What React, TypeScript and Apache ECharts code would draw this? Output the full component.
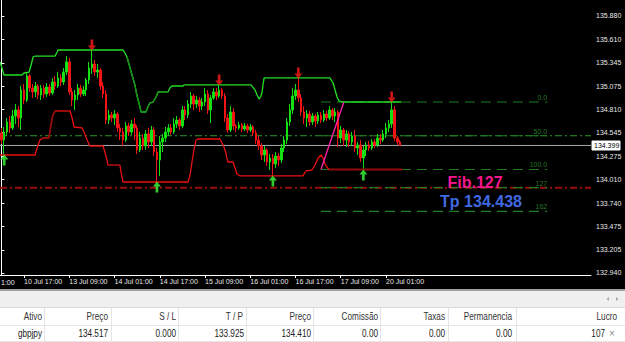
import React, { useEffect, useRef } from "react";
import * as echarts from "echarts";

// ---------- data (H1 GBPJPY) ----------
const opens = [134.542,134.461,134.553,134.667,134.599,134.736,134.805,134.713,135.033,134.919,135.194,135.056,135.011,135.079,134.976,135.056,134.988,135.068,134.999,135.125,135.079,135.171,135.125,135.239,135.354,135.011,134.919,134.976,135.056,134.988,135.033,135.148,135.285,135.331,135.239,135.262,135.079,134.988,134.690,134.747,134.713,134.759,134.599,134.553,134.461,134.622,134.553,134.644,134.599,134.347,134.484,134.393,134.530,134.439,134.576,134.324,134.233,134.439,134.484,134.553,134.599,134.553,134.644,134.690,134.622,134.805,134.747,134.873,134.965,134.873,134.919,134.850,134.896,134.988,134.805,134.942,135.011,134.965,135.033,134.965,134.713,134.576,134.782,134.622,134.599,134.633,134.587,134.622,134.576,134.610,134.542,134.461,134.393,134.290,134.347,134.210,134.256,134.187,134.278,134.233,134.370,134.461,134.667,134.805,134.965,135.033,134.942,134.782,134.713,134.759,134.667,134.736,134.679,134.747,134.690,134.759,134.713,134.805,134.736,134.782,134.484,134.576,134.461,134.530,134.439,134.507,134.370,134.404,134.256,134.347,134.404,134.370,134.439,134.404,134.484,134.461,134.530,134.599,134.644,134.805,134.484,134.439];
const closes = [134.461,134.553,134.667,134.599,134.736,134.805,134.713,135.033,134.919,135.194,135.056,135.011,135.079,134.976,135.056,134.988,135.068,134.999,135.125,135.079,135.171,135.125,135.239,135.354,135.011,134.919,134.976,135.056,134.988,135.033,135.148,135.285,135.331,135.239,135.262,135.079,134.988,134.690,134.747,134.713,134.759,134.599,134.553,134.461,134.622,134.553,134.644,134.599,134.347,134.484,134.393,134.530,134.439,134.576,134.324,134.233,134.439,134.484,134.553,134.599,134.553,134.644,134.690,134.622,134.805,134.747,134.873,134.965,134.873,134.919,134.850,134.896,134.988,134.805,134.942,135.011,134.965,135.033,134.965,134.713,134.576,134.782,134.622,134.599,134.633,134.587,134.622,134.576,134.610,134.542,134.461,134.393,134.290,134.347,134.210,134.256,134.187,134.278,134.233,134.370,134.461,134.667,134.805,134.965,135.033,134.942,134.782,134.713,134.759,134.667,134.736,134.679,134.747,134.690,134.759,134.713,134.805,134.736,134.782,134.484,134.576,134.461,134.530,134.439,134.507,134.370,134.404,134.256,134.347,134.404,134.370,134.439,134.404,134.484,134.461,134.530,134.599,134.644,134.805,134.484,134.439,134.399];
const lows = [134.416,134.290,134.507,134.542,134.576,134.644,134.610,134.576,134.873,134.896,135.011,134.942,134.953,134.930,134.919,134.942,134.953,134.965,134.976,135.033,135.056,135.079,135.091,135.205,134.976,134.850,134.805,134.919,134.953,134.965,134.965,135.102,135.216,135.194,135.171,135.033,134.942,134.644,134.644,134.667,134.633,134.553,134.461,134.393,134.439,134.507,134.519,134.461,134.301,134.324,134.347,134.347,134.370,134.393,134.278,133.981,134.050,134.324,134.439,134.507,134.519,134.530,134.599,134.576,134.599,134.690,134.713,134.828,134.805,134.828,134.782,134.805,134.850,134.759,134.656,134.919,134.919,134.942,134.930,134.667,134.542,134.553,134.576,134.553,134.576,134.553,134.564,134.542,134.553,134.507,134.416,134.347,134.233,134.210,134.164,134.118,134.050,134.141,134.164,134.198,134.324,134.416,134.622,134.759,134.919,134.896,134.736,134.644,134.610,134.622,134.633,134.610,134.644,134.656,134.667,134.679,134.690,134.690,134.667,134.381,134.427,134.393,134.381,134.381,134.393,134.324,134.290,134.210,134.130,134.278,134.336,134.347,134.370,134.381,134.416,134.439,134.484,134.553,134.599,134.450,134.404,134.393];
const highs = [134.599,134.610,134.713,134.736,134.805,134.873,134.850,135.079,135.102,135.239,135.216,135.102,135.125,135.102,135.091,135.091,135.113,135.102,135.171,135.194,135.239,135.216,135.285,135.422,135.400,135.056,135.033,135.102,135.091,135.079,135.171,135.354,135.491,135.377,135.331,135.285,135.125,135.033,134.805,134.782,134.805,134.782,134.644,134.599,134.667,134.656,134.690,134.713,134.633,134.553,134.530,134.576,134.599,134.622,134.610,134.370,134.507,134.530,134.610,134.644,134.644,134.713,134.736,134.713,134.850,134.850,134.919,135.011,134.988,134.965,134.953,134.942,135.056,135.033,134.976,135.056,135.056,135.091,135.056,134.999,134.759,134.850,134.828,134.644,134.667,134.656,134.656,134.644,134.644,134.633,134.576,134.507,134.427,134.393,134.370,134.301,134.301,134.324,134.313,134.416,134.507,134.713,134.873,135.056,135.102,135.171,134.988,134.850,134.805,134.793,134.770,134.759,134.782,134.782,134.805,134.793,134.850,134.828,134.828,134.805,134.622,134.599,134.576,134.564,134.553,134.576,134.439,134.461,134.393,134.439,134.450,134.473,134.473,134.530,134.530,134.576,134.656,134.690,134.896,134.850,134.507,134.461];

// channel bands: [bar index, price]
const upperBand = [[-0.5,135.354],[0.2,135.285],[0.9,135.205],[7.3,135.205],[8.0,135.228],[9.8,135.239],[10.5,135.319],[11.2,135.411],[11.9,135.422],[19.0,135.422],[19.7,135.468],[20.0,135.491],[43.0,135.491],[43.7,135.457],[44.4,135.411],[45.5,135.285],[46.5,135.171],[47.2,135.091],[47.9,134.976],[49.0,134.839],[49.4,134.782],[51.1,134.782],[51.8,134.839],[52.5,134.885],[53.6,134.896],[54.7,134.953],[55.4,135.011],[58.9,135.011],[59.6,135.056],[60.3,135.079],[64.2,135.079],[64.6,135.091],[88.3,135.091],[89.7,135.033],[90.4,134.976],[91.1,134.930],[91.8,134.965],[92.2,135.011],[92.5,135.091],[92.9,135.171],[116.2,135.171],[117.3,135.113],[118.0,135.033],[118.7,134.953],[119.4,134.908],[120.4,134.896],[141.3,134.896]];
const lowerBand = [[-0.5,134.290],[11.9,134.290],[12.6,134.370],[13.6,134.461],[14.7,134.484],[16.8,134.484],[17.5,134.633],[18.2,134.747],[19.0,134.793],[24.3,134.793],[25.0,134.713],[25.7,134.610],[28.5,134.599],[29.2,134.553],[30.3,134.461],[31.3,134.393],[35.9,134.393],[36.6,134.324],[37.3,134.233],[37.7,134.175],[41.9,134.175],[42.3,134.095],[43.0,133.981],[66.0,133.981],[66.7,134.061],[67.4,134.210],[68.1,134.347],[68.8,134.461],[69.5,134.473],[77.3,134.473],[78.0,134.427],[78.7,134.381],[79.4,134.313],[79.8,134.244],[80.1,134.210],[81.9,134.210],[82.6,134.141],[83.3,134.072],[84.4,134.050],[106.6,134.050],[107.7,134.107],[109.8,134.118],[110.9,134.175],[112.0,134.256],[113.0,134.290],[113.7,134.256],[114.4,134.187],[115.1,134.153],[115.8,134.124],[141.7,134.124]];

const sellArrowBars = [32, 77, 105, 138];
const sellArrowPrices = [135.548, 135.148, 135.228, 134.953];
const buyArrowBars = [1, 55, 96, 128];
const buyArrowPrices = [134.233, 133.924, 133.992, 134.061];

const fibStartBar = 113;
const fibEndBar = 193;
const fibHigh = 134.896;
const fibLow = 134.124;
const fibLevels = [0, 50, 100, 127, 162];
const fibLabels = ["0.0", "50.0", "100.0", "127", "162"];
const trendLine = [[113.0, 134.124], [121.1, 134.896]];
const bidPrice = 134.399;
const hLineGreen = 134.51;
const hLineRed = 133.916;

const priceTicks = [132.94, 133.205, 133.475, 133.74, 134.01, 134.275, 134.545, 134.81, 135.075, 135.345, 135.61, 135.88];
const timeTickBars = [8, 24, 40, 56, 72, 88, 104, 120, 136];
const timeTickLabels = ["10 Jul 17:00", "13 Jul 09:00", "14 Jul 01:00", "14 Jul 17:00", "15 Jul 09:00", "16 Jul 01:00", "16 Jul 17:00", "17 Jul 09:00", "20 Jul 01:00"];
const firstTimeFragment = "1:00";
const slotCount = 209;

const tableHeaders = ["Ativo", "Preço", "S / L", "T / P", "Preço", "Comissão", "Taxas", "Permanencia", "Lucro"];
const tableValues = ["gbpjpy", "134.517", "0.000", "133.925", "134.410", "0.00", "0.00", "0.00", "107"];

// ---------- layout ----------
const W = 625, H = 342;
const PLOT_W = 591, PLOT_H = 275;
const colRight = [42, 108, 176, 243, 311, 378, 445, 512, 617];
const valueRight = [42, 108, 176, 244, 311, 378, 445, 512, 605];
const colSep = [44.5, 111.5, 178.5, 246.5, 313.5, 380.5, 448.5, 516.5];
const FONT = "'Liberation Sans', Arial, sans-serif";
const NARROW_SCALE = 0.82;

export default function App() {
  const ref = useRef<HTMLDivElement>(null);
  useEffect(() => {
    if (!ref.current) return;
    const chart = echarts.init(ref.current, undefined, { renderer: "svg" });
    const cats = Array.from({ length: slotCount }, (_, i) => String(i));
    const fibPrice = (lv: number) => fibHigh - (lv / 100) * (fibHigh - fibLow);

    const series: any[] = [];
    series.push({
      type: "line", xAxisIndex: 1, yAxisIndex: 0, symbol: "none", silent: true,
      data: [[-0.5, bidPrice], [slotCount - 0.5, bidPrice]],
      lineStyle: { color: "#a9a9b0", width: 1 }, z: 1,
    });
    series.push({
      type: "line", xAxisIndex: 1, symbol: "none", silent: true,
      data: [[-0.5, hLineGreen], [slotCount - 0.5, hLineGreen]],
      lineStyle: { color: "#2b962b", width: 1.2, type: [7, 3, 2, 3] }, z: 1,
    });
    series.push({
      type: "line", xAxisIndex: 1, symbol: "none", silent: true,
      data: [[-0.5, hLineRed], [slotCount - 0.5, hLineRed]],
      lineStyle: { color: "#9a0c0c", width: 2, type: [7, 3, 2, 3] }, z: 1,
    });
    fibLevels.forEach((lv, k) => {
      const p = fibPrice(lv);
      series.push({
        type: "line", xAxisIndex: 1, symbol: "none", silent: true,
        data: [[fibStartBar, p], [fibEndBar, p]],
        lineStyle: { color: "#1f7d1f", width: 1.2, type: [10, 6] }, z: 2,
      });
      series.push({
        type: "scatter", xAxisIndex: 1, symbolSize: 0, silent: true,
        data: [[fibEndBar, p]],
        label: {
          show: true, position: "top", align: "right", distance: 1,
          formatter: fibLabels[k], color: "#2f9a2f", fontSize: 7, fontFamily: FONT,
        }, z: 3,
      });
    });
    series.push({
      type: "candlestick", xAxisIndex: 0, yAxisIndex: 0, barWidth: 2,
      data: opens.map((o, i) => [o, closes[i], lows[i], highs[i]]),
      itemStyle: {
        color: "#14e014", borderColor: "#14e014",
        color0: "#f01414", borderColor0: "#f01414", borderWidth: 1,
      }, z: 5,
    });
    series.push({
      type: "line", xAxisIndex: 1, symbol: "none", silent: true, data: upperBand,
      lineStyle: { color: "#22e022", width: 1.3 }, z: 6,
    });
    series.push({
      type: "line", xAxisIndex: 1, symbol: "none", silent: true, data: upperBand.slice(14, 28),
      lineStyle: { color: "#178f17", width: 1.3 }, z: 6,
    });
    series.push({
      type: "line", xAxisIndex: 1, symbol: "none", silent: true, data: lowerBand,
      lineStyle: { color: "#ea1010", width: 1.3 }, z: 6,
    });
    [[4, 10], [19, 21], [48, 50]].forEach(([a, b]) => {
      series.push({
        type: "line", xAxisIndex: 1, symbol: "none", silent: true, data: lowerBand.slice(a, b),
        lineStyle: { color: "#8e0a0a", width: 1.6 }, z: 6,
      });
    });
    series.push({
      type: "line", xAxisIndex: 1, symbol: "none", silent: true, data: trendLine,
      lineStyle: { color: "#ff22aa", width: 1.3 }, z: 7,
    });
    series.push({
      type: "scatter", xAxisIndex: 1, silent: true,
      symbol: "path://M3,0L6,0L6,6L9,6L4.5,11L0,6L3,6Z", symbolSize: [8, 11],
      data: sellArrowBars.map((b, i) => [b, sellArrowPrices[i]]),
      itemStyle: { color: "#ff1a1a" }, z: 8,
    });
    series.push({
      type: "scatter", xAxisIndex: 1, silent: true,
      symbol: "path://M4.5,0L9,5L6,5L6,11L3,11L3,5L0,5Z", symbolSize: [8, 11],
      data: buyArrowBars.map((b, i) => [b, buyArrowPrices[i]]),
      itemStyle: { color: "#3cff3c" }, z: 8,
    });

    const graphic: any[] = [];
    graphic.push({ type: "text", x: 1, y: 282, style: { text: firstTimeFragment, fill: "#e8e8e8", font: `7px ${FONT}`, align: "left", verticalAlign: "middle" } });
    graphic.push({ type: "rect", shape: { x: 592, y: 141, width: 28, height: 9 }, style: { fill: "#ffffff", stroke: "#ffffff" }, z: 20 });
    graphic.push({ type: "text", x: 594, y: 145.5, style: { text: bidPrice.toFixed(3), fill: "#000000", font: `7px ${FONT}`, verticalAlign: "middle" }, z: 21 });
    graphic.push({ type: "text", x: 475, y: 182, style: { text: "Fib.127", fill: "#f5168c", font: `bold 16px ${FONT}`, align: "center", verticalAlign: "middle" }, z: 20 });
    graphic.push({ type: "text", x: 481, y: 201, style: { text: "Tp 134.438", fill: "#4169e1", font: `bold 16px ${FONT}`, align: "center", verticalAlign: "middle" }, z: 20 });
    // table panel
    graphic.push({ type: "rect", shape: { x: 0, y: 289, width: W, height: H - 289 }, style: { fill: "#ffffff" }, z: 30 });
    graphic.push({ type: "rect", shape: { x: 0, y: 289, width: W, height: 2 }, style: { fill: "#a0a0a0" }, z: 31 });
    graphic.push({ type: "rect", shape: { x: 0, y: 291, width: W, height: 16 }, style: { fill: "#f0f0f0" }, z: 31 });
    graphic.push({ type: "line", shape: { x1: 0, y1: 307.5, x2: W, y2: 307.5 }, style: { stroke: "#d8d8d8" }, z: 31 });
    graphic.push({ type: "line", shape: { x1: 0, y1: 325.5, x2: W, y2: 325.5 }, style: { stroke: "#e6e6e6" }, z: 31 });
    graphic.push({ type: "line", shape: { x1: 0, y1: 341.5, x2: W, y2: 341.5 }, style: { stroke: "#e6e6e6" }, z: 31 });
    colSep.forEach((x) => {
      graphic.push({ type: "line", shape: { x1: x, y1: 308, x2: x, y2: 341 }, style: { stroke: "#e4e4e4" }, z: 31 });
    });
    graphic.push({ type: "polygon", shape: { points: [[609, 297], [609, 301], [606.5, 299]] }, style: { fill: "#a8a8a8" }, z: 32 });
    graphic.push({ type: "polygon", shape: { points: [[616, 297], [616, 301], [618.5, 299]] }, style: { fill: "#a8a8a8" }, z: 32 });
    tableHeaders.forEach((t, i) => {
      graphic.push({ type: "text", x: colRight[i], y: 317, scaleX: NARROW_SCALE, style: { text: t, fill: "#333333", font: `10px ${FONT}`, align: "right", verticalAlign: "middle" }, z: 33 });
    });
    tableValues.forEach((t, i) => {
      graphic.push({ type: "text", x: valueRight[i], y: 333.5, scaleX: NARROW_SCALE, style: { text: t, fill: "#1a1a1a", font: `10px ${FONT}`, align: "right", verticalAlign: "middle" }, z: 33 });
    });
    graphic.push({ type: "text", x: 612, y: 333.5, style: { text: "×", fill: "#8a8a8a", font: `10px ${FONT}`, align: "center", verticalAlign: "middle" }, z: 33 });

    chart.setOption({
      animation: false,
      backgroundColor: "#000000",
      textStyle: { fontFamily: FONT },
      grid: { left: 0, top: 0, width: PLOT_W, height: PLOT_H, containLabel: false },
      xAxis: [
        {
          type: "category", data: cats, boundaryGap: true,
          axisLine: { show: true, lineStyle: { color: "#ffffff", width: 1 } },
          axisTick: {
            show: true, alignWithLabel: true, length: 3, lineStyle: { color: "#ffffff" },
            interval: (idx: number) => timeTickBars.includes(idx),
          },
          axisLabel: {
            show: true, interval: (idx: number) => timeTickBars.includes(idx),
            formatter: (_v: string, idx: number) => {
              const k = timeTickBars.indexOf(idx);
              return k >= 0 ? timeTickLabels[k] : "";
            },
            color: "#e8e8e8", fontSize: 7, fontFamily: FONT, align: "left", margin: 3,
            hideOverlap: false,
          },
          splitLine: { show: false },
        },
        { type: "value", min: -0.5, max: slotCount - 0.5, show: false, gridIndex: 0 },
      ],
      yAxis: [
        {
          type: "value", position: "right", min: 132.917, max: 136.063, scale: true,
          axisLine: { show: true, lineStyle: { color: "#ffffff", width: 1 } },
          axisTick: { show: true, length: 3, lineStyle: { color: "#ffffff" }, customValues: priceTicks },
          axisLabel: {
            show: true, customValues: priceTicks, formatter: (v: number) => v.toFixed(3),
            color: "#e8e8e8", fontSize: 7, fontFamily: FONT, margin: 5,
          },
          splitLine: { show: false },
        },
      ],
      series,
      graphic,
    });
    return () => chart.dispose();
  }, []);
  return (
    <div style={{ position: "fixed", left: 0, top: 0, width: W, height: H }}>
      <div ref={ref} style={{ width: W, height: H }} />
    </div>
  );
}
